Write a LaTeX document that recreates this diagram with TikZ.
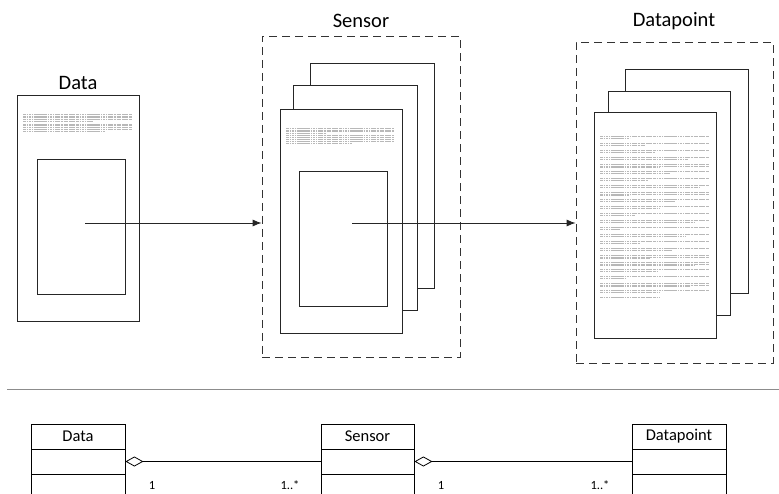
\documentclass[tikz,border=0pt]{standalone}
\usepackage{fontspec}
\setmainfont{Carlito}
\usetikzlibrary{arrows.meta}

% rectangle node given by its two corners
\newcommand\cornerbox[6]{%
  \node[#2, minimum width={#5-#3}, minimum height={#6-#4}] (#1) at ({(#3+#5)/2},{(#4+#6)/2}) {};}
% a paragraph of greeked text: x, y of first line, width, lines, last line length
\newcommand\greek[5]{%
  \foreach \k in {1,...,#4}{%
    \pgfmathsetmacro\len{\k<#4 ? #3 : #5}%
    \draw[txt] (#1,{#2+(\k-1)*1.8}) -- ++(\len,0);}}

\begin{document}
\begin{tikzpicture}[x=1pt,y=-1pt,
  page/.style={draw=black!85, line width=0.8pt, fill=white, rectangle, inner sep=0pt},
  figbox/.style={draw=black!85, line width=0.8pt, rectangle, inner sep=0pt},
  frame/.style={draw=black!80, line width=0.8pt, dash pattern=on 8pt off 5pt, rectangle, inner sep=0pt},
  txt/.style={draw=black!28, line width=0.25pt, dash pattern=on 3pt off 0.6pt on 1.6pt off 0.6pt on 2.4pt off 0.6pt on 1.2pt off 0.6pt},
  title/.style={font=\fontsize{20.5}{24}\selectfont, inner sep=0pt},
  flow/.style={draw=black!85, line width=0.8pt, -{Latex[length=9pt,width=7pt]}},
  umlbox/.style={draw=black, line width=0.8pt, rectangle, inner sep=0pt},
  umltitle/.style={font=\fontsize{16.5}{19}\selectfont},
  assoc/.style={draw=black, line width=0.8pt, {Diamond[open,length=18pt,width=10pt]}-},
  mult/.style={font=\fontsize{12.5}{14}\selectfont, inner sep=0pt},
  rule/.style={draw=black!45, line width=0.8pt}
]
\useasboundingbox (0,0) rectangle (779,494);
\clip (0,0) rectangle (779,494);

% ---- upper part: document icons ----
% Data
\node[title] (tdata) at (78,83) {Data};
\cornerbox{dpage}{page}{17}{95}{139}{321}
\greek{23}{114}{109}{5}{70}
\greek{23}{123.8}{109}{5}{82}
\cornerbox{dimg}{figbox}{37}{159}{125}{294}

% Sensor
\node[title] (tsensor) at (361,21) {Sensor};
\cornerbox{sframe}{frame}{262}{36}{460}{357}
\cornerbox{sback}{page}{310}{63}{434}{288}
\cornerbox{smid}{page}{293}{85}{417}{310}
\cornerbox{sfront}{page}{280}{109}{402}{333}
\greek{286}{128}{108}{4}{40}
\greek{286}{135.6}{108}{5}{66}
\cornerbox{simg}{figbox}{299}{171}{387}{306}

% Datapoint
\node[title] (tpoint) at (674,21) {Datapoint};
\cornerbox{pframe}{frame}{576}{42}{773}{363}
\cornerbox{pback}{page}{625}{69}{748}{293}
\cornerbox{pmid}{page}{608}{91}{730}{315}
\cornerbox{pfront}{page}{594}{112}{716}{338}
\foreach \i/\n/\l in {0/2/30, 1/2/45, 2/2/55, 3/2/88, 4/3/60, 5/2/70, 6/2/48, 7/2/100, 8/3/30,
                      9/2/75, 10/2/60, 11/2/35, 12/2/95, 13/2/20, 14/2/85, 15/2/40, 16/2/72,
                      17/3/50, 18/3/95, 19/2/58, 20/2/25, 21/3/90, 22/2/60, 23/1/60}{
  \greek{600}{136+\i*7}{109}{\n}{\l}
}

% flow arrows
\coordinate (dsrc) at (85,223);
\coordinate (ssrc) at (352,223);
\draw[flow] (dsrc) -- (sframe.west |- dsrc);
\draw[flow] (ssrc) -- (pframe.west |- ssrc);

% separator
\coordinate (rl) at (7,389);
\coordinate (rr) at (779,389);
\draw[rule] (rl) -- (rr);

% ---- lower part: class diagram ----
\foreach \nm/\xa/\xb/\lab in {cdata/31/125/Data, csensor/321/414/Sensor, cpoint/632/726/Datapoint}{
  \cornerbox{\nm h}{umlbox}{\xa}{424}{\xb}{449}
  \node[umltitle] at (\nm h) {\lab};
  \cornerbox{\nm a}{umlbox}{\xa}{449}{\xb}{474}
  \cornerbox{\nm o}{umlbox}{\xa}{474}{\xb}{510}
}
\draw[assoc] (cdataa.east) -- (csensora.west);
\draw[assoc] (csensora.east) -- (cpointa.west);
\node[mult] (m1) at (152,485) {1};
\node[mult] (m2) at (290,485) {1..*};
\node[mult] (m3) at (441,485) {1};
\node[mult] (m4) at (600,485) {1..*};
\end{tikzpicture}
\end{document}
